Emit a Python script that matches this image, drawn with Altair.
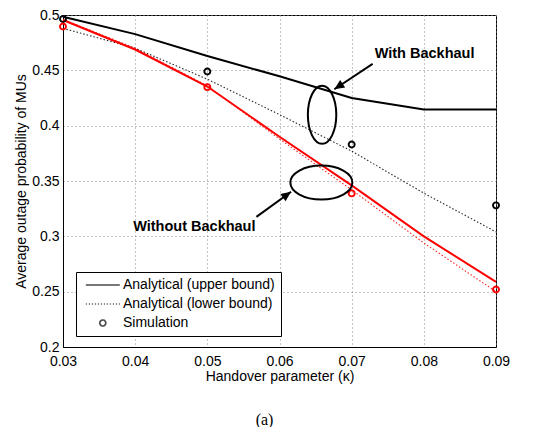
import altair as alt
import pandas as pd

# ---- data ----
kappa = [0.03, 0.04, 0.05, 0.06, 0.07, 0.08, 0.09]
with_upper = [0.4985, 0.4827, 0.463, 0.4446, 0.425, 0.4147, 0.4147]
with_lower = [0.488, 0.470, 0.442, 0.410, 0.377, 0.339, 0.304]
without_upper = [0.4955, 0.4688, 0.4354, 0.390, 0.346, 0.300, 0.2588]
without_lower = [0.496, 0.470, 0.436, 0.388, 0.342, 0.294, 0.250]

sim_kappa = [0.03, 0.05, 0.07, 0.09]
with_sim = [0.4964, 0.449, 0.383, 0.328]
without_sim = [0.4896, 0.4348, 0.3388, 0.252]

groups = ["With Backhaul", "Without Backhaul"]
group_colors = ["black", "red"]
legend_labels = ["Analytical (upper bound)", "Analytical (lower bound)", "Simulation"]

x_ticks = [0.03, 0.04, 0.05, 0.06, 0.07, 0.08, 0.09]
y_ticks = [0.2, 0.25, 0.3, 0.35, 0.4, 0.45, 0.5]

# annotations (data coordinates)
note_text = ["With Backhaul", "Without Backhaul"]
note_x = [0.0801, 0.0482]
note_y = [0.4645, 0.3087]
arrow_x = [0.0729, 0.0568]
arrow_y = [0.4559, 0.3176]
arrow_x2 = [0.0676, 0.0616]
arrow_y2 = [0.4329, 0.3403]
arrow_angle = [236, 54]
ellipse_v_x, ellipse_v_y = [0.0659], [0.4098]
ellipse_h_x, ellipse_h_y = [0.0658], [0.3486]

# ---- tables ----
n = len(kappa)
lines_df = pd.DataFrame({
    "kappa": kappa * 4,
    "value": with_upper + with_lower + without_upper + without_lower,
    "group": [groups[0]] * (2 * n) + [groups[1]] * (2 * n),
    "bound": (["upper"] * n + ["lower"] * n) * 2,
})
sim_df = pd.DataFrame({
    "kappa": sim_kappa * 2,
    "value": with_sim + without_sim,
    "group": [groups[0]] * len(sim_kappa) + [groups[1]] * len(sim_kappa),
})
notes_df = pd.DataFrame({"text": note_text, "x": note_x, "y": note_y})
arrows_df = pd.DataFrame({"x": arrow_x, "y": arrow_y, "x2": arrow_x2,
                          "y2": arrow_y2, "angle": arrow_angle})
ev_df = pd.DataFrame({"x": ellipse_v_x, "y": ellipse_v_y})
eh_df = pd.DataFrame({"x": ellipse_h_x, "y": ellipse_h_y})
legend_df = pd.DataFrame({"kind": legend_labels})

FONT = "Liberation Sans"

xs = alt.Scale(domain=[0.03, 0.09], nice=False, zero=False)
ys = alt.Scale(domain=[0.2, 0.5], nice=False, zero=False)
X = alt.X("kappa:Q", scale=xs,
          axis=alt.Axis(values=x_ticks, format=".2f", title="Handover parameter (κ)",
                        labelPadding=7, titlePadding=1))
Y = alt.Y("value:Q", scale=ys,
          axis=alt.Axis(values=y_ticks, format=".2~f",
                        title="Average outage probability of MUs",
                        labelPadding=4, titlePadding=3))
C = alt.Color("group:N", scale=alt.Scale(domain=groups, range=group_colors), legend=None)

base = alt.Chart(lines_df)
lower = base.transform_filter("datum.bound == 'lower'").mark_line(
    strokeWidth=1.1, strokeDash=[1.5, 2], opacity=0.85
).encode(x=X, y=Y, color=C, detail="group:N")
upper = base.transform_filter("datum.bound == 'upper'").mark_line(
    strokeWidth=2
).encode(x=X, y=Y, color=C, detail="group:N")

points = alt.Chart(sim_df).mark_point(
    shape="circle", size=36, strokeWidth=1.9, filled=False, opacity=1
).encode(x=X, y=Y, color=C)

# annotation layers
ax = alt.X("x:Q", scale=xs)
ay = alt.Y("y:Q", scale=ys)
notes = alt.Chart(notes_df).mark_text(
    font=FONT, fontSize=14.5, fontWeight="bold", color="black",
    align="center", baseline="middle"
).encode(x=ax, y=ay, text="text:N")
arrows = alt.Chart(arrows_df).mark_rule(strokeWidth=2, color="black").encode(
    x=ax, y=ay, x2="x2:Q", y2="y2:Q")
heads = alt.Chart(arrows_df).mark_point(
    shape="M0,0 L0.45,1 L-0.45,1 Z", size=400, filled=True, color="black", opacity=1
).encode(x=alt.X("x2:Q", scale=xs), y=alt.Y("y2:Q", scale=ys), angle=alt.Angle("angle:Q", scale=None))

ell_v_path = ("M0,-1 C0.2706,-1 0.49,-0.5523 0.49,0 C0.49,0.5523 0.2706,1 0,1 "
              "C-0.2706,1 -0.49,0.5523 -0.49,0 C-0.49,-0.5523 -0.2706,-1 0,-1 Z")
ell_h_path = ("M-1,0 C-1,-0.3029 -0.5523,-0.548 0,-0.548 C0.5523,-0.548 1,-0.3029 1,0 "
              "C1,0.3029 0.5523,0.548 0,0.548 C-0.5523,0.548 -1,0.3029 -1,0 Z")
ell_v = alt.Chart(ev_df).mark_point(
    shape=ell_v_path, size=3364, filled=False, color="black", strokeWidth=2, opacity=1
).encode(x=ax, y=ay)
ell_h = alt.Chart(eh_df).mark_point(
    shape=ell_h_path, size=3844, filled=False, color="black", strokeWidth=2, opacity=1
).encode(x=ax, y=ay)

# legend-only layer (no marks drawn, drives one merged legend)
line_sym = "M-0.56,0 L5.44,0"
circ_sym = ("M1.91,0 C1.91,-0.293 2.147,-0.53 2.44,-0.53 C2.733,-0.53 2.97,-0.293 2.97,0 "
            "C2.97,0.293 2.733,0.53 2.44,0.53 C2.147,0.53 1.91,0.293 1.91,0 Z")
leg = dict(title=None, orient="none", legendX=13, legendY=257,
           symbolSize=128, symbolStrokeColor="black", symbolFillColor="transparent",
           symbolStrokeWidth=1.7, labelOffset=27, labelFont=FONT, labelFontSize=14,
           labelColor="black", labelLimit=400, rowPadding=5, padding=6,
           strokeColor="black", fillColor="white", cornerRadius=0)
legend_layer = alt.Chart(legend_df).transform_filter("false").mark_point(filled=False).encode(
    shape=alt.Shape("kind:N", scale=alt.Scale(domain=legend_labels,
                                              range=[line_sym, line_sym, circ_sym]),
                    legend=alt.Legend(**leg)),
    strokeDash=alt.StrokeDash("kind:N", scale=alt.Scale(domain=legend_labels,
                                                        range=[[1, 0], [1, 2], [1, 0]]),
                              legend=alt.Legend(**leg)),
)

chart = alt.layer(
    lower, upper, points, arrows, heads, ell_v, ell_h, notes, legend_layer
).resolve_scale(color="independent").properties(
    width=433, height=332,
    background="white",
    autosize=alt.AutoSizeParams(type="none"),
    padding={"left": 55, "top": 7, "right": 30, "bottom": 80},
    title=alt.TitleParams("(a)", orient="bottom", font="Liberation Serif", fontSize=16,
                          fontWeight="normal", color="black", offset=29, dx=-15,
                          anchor="middle", frame="group"),
).configure_view(
    stroke="black", strokeWidth=1
).configure_axis(
    domainColor="black", domainWidth=1, ticks=False, tickSize=0,
    grid=True, gridColor="#8a8a8a", gridDash=[1, 3], gridWidth=1,
    labelFont=FONT, labelFontSize=14, labelColor="black",
    titleFont=FONT, titleFontSize=14, titleFontWeight="normal", titleColor="black",
    labelFlush=False, labelOverlap=False
)

chart.save("out.html", embed_options={"renderer": "svg", "actions": False})
